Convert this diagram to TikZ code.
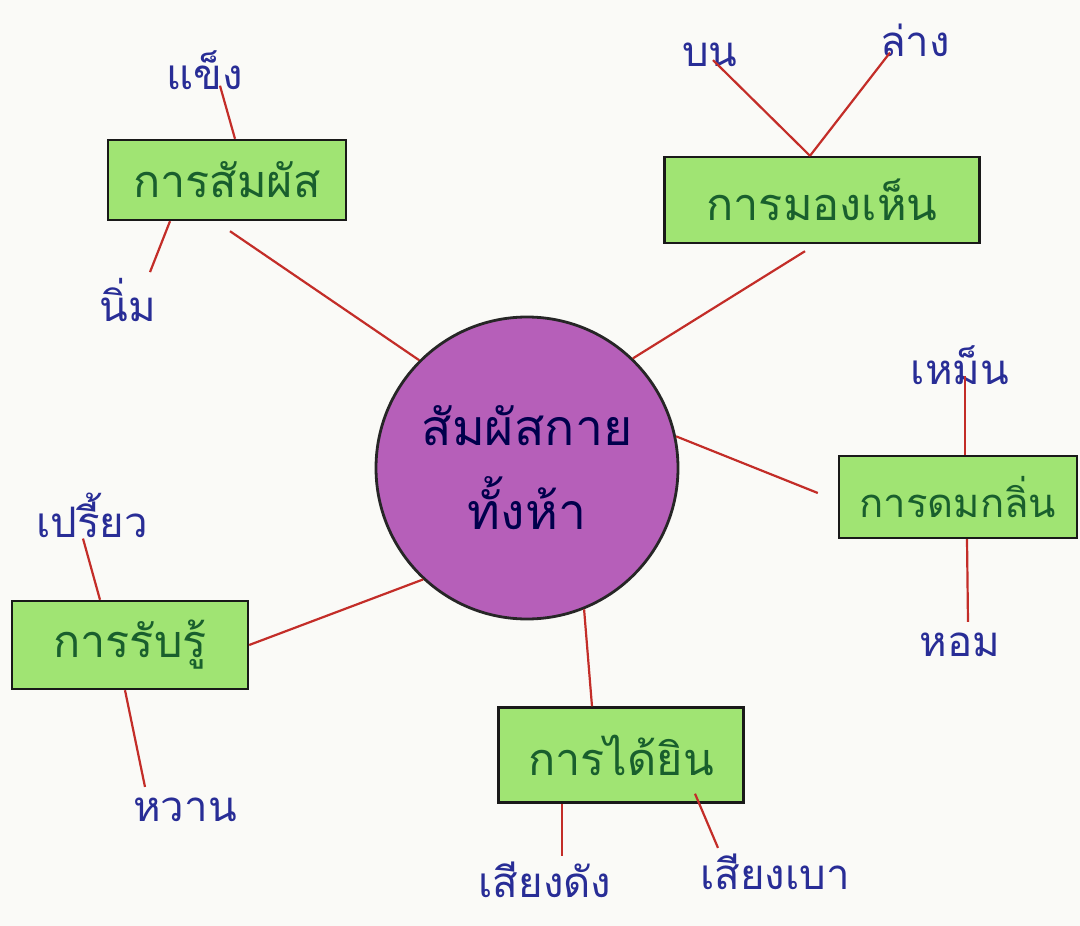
\documentclass[tikz,border=0pt]{standalone}
\usepackage{fontspec}
\newfontfamily\thai[Script=Thai]{Loma}
\usetikzlibrary{calc}
\definecolor{labblue}{RGB}{40,45,150}
\definecolor{boxgreen}{RGB}{25,95,45}
\definecolor{boxfill}{RGB}{160,228,115}
\definecolor{ballfill}{RGB}{182,95,185}
\definecolor{linkred}{RGB}{195,45,40}
\definecolor{paper}{RGB}{250,250,247}
\begin{document}
\begin{tikzpicture}[x=1pt,y=-1pt,
  sensebox/.style={draw=black!90, line width=2.4pt, fill=boxfill, text=boxgreen,
    font=\thai\fontsize{45}{52}\selectfont, inner sep=0pt},
  leaf/.style={text=labblue, font=\thai\fontsize{42}{48}\selectfont, inner sep=1pt},
  link/.style={draw=linkred, line width=2.2pt}]
\useasboundingbox (0,0) rectangle (1080,926);
\fill[paper] (0,0) rectangle (1080,926);

% centre
\node[circle, draw=black!85, line width=2.8pt, fill=ballfill, minimum size=302pt,
      inner sep=0pt, align=center, text=black!70!blue,
      font=\thai\fontsize{50}{84}\selectfont] (c) at (527,468) {สัมผัสกาย\\ทั้งห้า};

% boxes
\node[sensebox, minimum width=238pt, minimum height=80pt] (b1) at (227,180) {การสัมผัส};
\node[sensebox, minimum width=315pt, minimum height=86pt] (b2) at (822,200) {การมองเห็น};
\node[sensebox, minimum width=238pt, minimum height=82pt,
      font=\thai\fontsize{40}{48}\selectfont] (b3) at (958,497) {การดมกลิ่น};
\node[sensebox, minimum width=236pt, minimum height=88pt] (b4) at (130,645) {การรับรู้};
\node[sensebox, minimum width=245pt, minimum height=95pt] (b5) at (621,755) {การได้ยิน};

% leaves
\node[leaf] (l1) at (205,70) {แข็ง};
\node[leaf] (l2) at (128,300) {นิ่ม};
\node[leaf] (l3) at (710,55) {บน};
\node[leaf] (l4) at (915,40) {ล่าง};
\node[leaf] (l5) at (960,365) {เหม็น};
\node[leaf] (l6) at (960,645) {หอม};
\node[leaf] (l7) at (92,515) {เปรี้ยว};
\node[leaf] (l8) at (185,810) {หวาน};
\node[leaf] (l9) at (545,880) {เสียงดัง};
\node[leaf] (l10) at (775,872) {เสียงเบา};

% centre to boxes
\draw[link] (c.135) -- ($(b1.south)+(3,10)$);
\draw[link] (c.46) -- ($(b2.south)+(-17,7)$);
\draw[link] (c.12) -- ($(b3.west)+(-20,-4)$);
\draw[link] (c.227) -- (b4.east);
\draw[link] (c.292) -- ($(b5.north)+(-29,0)$);

% boxes to leaves
\draw[link] ($(b1.north)+(8,0)$) -- ($(l1.south)+(15,-5)$);
\draw[link] ($(b1.south)+(-57,0)$) -- ($(l2.north)+(22,-5)$);
\draw[link] ($(b2.north)+(-12,0)$) -- ($(l3.south)+(3,-8)$);
\draw[link] ($(b2.north)+(-12,0)$) -- ($(l4.south)+(-25,-5)$);
\draw[link] ($(b3.north)+(7,0)$) -- ($(l5.south)+(5,-10)$);
\draw[link] ($(b3.south)+(9,0)$) -- ($(l6.north)+(8,-10)$);
\draw[link] ($(b4.north)+(-30,0)$) -- ($(l7.south)+(-9,0)$);
\draw[link] ($(b4.south)+(-5,0)$) -- ($(l8.north)+(-40,-10)$);
\draw[link] ($(b5.south)+(-59,0)$) -- ($(l9.north)+(17,-5)$);
\draw[link] ($(b5.south)+(74,-10)$) -- ($(l10.north)+(-57,-5)$);
\end{tikzpicture}
\end{document}
